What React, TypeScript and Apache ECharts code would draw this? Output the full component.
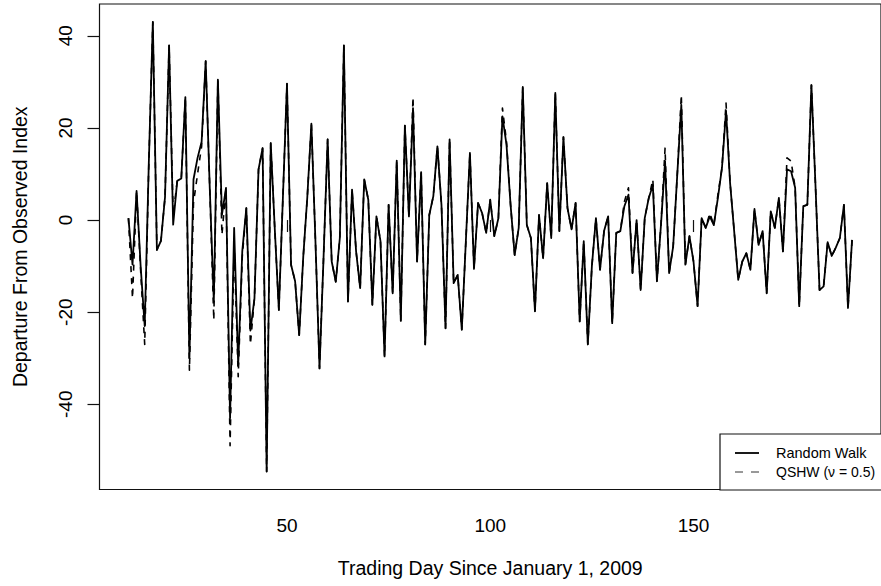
import React, { useEffect, useRef } from "react";
import * as echarts from "echarts";

// First trading-day index of the series (one value per trading day)
const FIRST_DAY = 11;

// Random Walk departures, days 11..189
const randomWalk: number[] = [
  0.4, -9.7, 6.3, -10, -23, 12, 43, -6.5, -4.5, 5,
  37.9, -1, 8.5, 9, 26.7, -30, 8.8, 13.5, 17, 34.5,
  7, -17.7, 30.5, 1.1, 7, -43, -1.7, -31.5, -6.8, 2.6,
  -24, -17, 11, 15.6, -54.6, 16.7, -2, -19.5, 5, 29.6,
  -9.7, -13.3, -25, -8, 5, 20.9, -4.6, -32.2, -8, 17.5,
  -9, -13.4, -3.9, 37.9, -17.7, 6.6, -6.8, -14.8, 8.8, 4.4,
  -18.4, 0.8, -4.6, -29.6, 3.3, -15.9, 12.9, -21.9, 20.5, 0.8,
  24.3, -9, 10.4, -27, 1.1, 5.2, 16, 3.3, -23.5, 17.5,
  -13.7, -11.9, -23.8, -4.6, 14.6, -10.6, 3.7, 1.5, -2.8, 4.4,
  -3.5, 0.4, 22.5, 16.3, 3.3, -7.6, -1.7, 28.9, -1.1, -3.9,
  -19.8, 1.1, -8.3, 8, -3.9, 27.6, -2.4, 18, 2.6, -2,
  3.7, -22, -4.6, -27, -10, 0.4, -10.8, -2.4, 0.8, -22.4,
  -2.8, -2.4, 3, 5.5, -11.5, 0, -15.2, 0.4, 4.8, 7.6,
  -13.3, -1, 12.8, -11.5, -5.7, 9.8, 25, -9.7, -3.5, -9,
  -18.7, 0.4, -1.7, 0.8, -1.1, 4.8, 11.3, 23.7, 8, -2.4,
  -13, -9, -7.2, -10.8, 2.4, -5.4, -2.4, -15.9, 1.9, -1.7,
  4.8, -6.8, 11, 10.6, 7, -18.7, 3, 3.3, 29.3, 7.6,
  -15.2, -14.4, -4.8, -7.8, -6, -3.9, 3.3, -19.1, -4.3,
];

// QSHW (nu = 0.5) departures, days 11..189
const qshw: number[] = [
  0.4, -17, 6.3, -11, -27, 12, 43, -6.5, -4.5, 5,
  37.9, 1, 8.5, 9, 26.7, -32.6, 3.7, 10, 16, 34.5,
  7, -21.7, 30.5, -3.2, 7, -49, -5, -34, -8, 2.6,
  -27, -17, 11, 15.6, -54.6, 16.7, -2, -19.5, 5, 29.6,
  -9.7, -13.3, -25, -8, 5, 20.9, -4.6, -32.2, -8, 17.5,
  -9, -13.4, -3.9, 37.9, -17.7, 6.6, -6.8, -14.8, 8.8, 4.4,
  -18.4, 0.8, -4.6, -29.6, 3.3, -15.9, 12.9, -21.9, 20.5, 0.8,
  26.7, -9, 10.4, -27, 1.1, 5.2, 16, 3.3, -23.5, 17.5,
  -13.7, -11.9, -23.8, -4.6, 14.6, -10.6, 3.7, 1.5, -2.8, 4.4,
  -3.5, 0.4, 24.3, 17, 3.3, -7.6, -1.7, 28.9, -1.1, -3.9,
  -19.8, 1.1, -8.3, 8, -3.9, 27.6, -2.4, 18, 2.6, -2,
  3.7, -22, -4.6, -27, -10, 0.4, -10.8, -2.4, 0.8, -22.4,
  -2.8, -2.4, 4, 7, -11.5, 0, -15.2, 0.4, 4.8, 8.8,
  -13.3, -1, 15.6, -11.5, -5.7, 9.8, 27.2, -9.7, -3.5, -9,
  -18.7, 0.4, -1.7, 1.5, -1.1, 5.5, 11.3, 25.4, 8, -2.4,
  -13, -9, -7.2, -10.8, 2.4, -5.4, -2.4, -15.9, 1.9, -1.7,
  4.8, -6.8, 13.5, 12.8, 7, -18.7, 3, 3.3, 29.3, 7.6,
  -15.2, -14.4, -4.8, -7.8, -6, -3.9, 3.3, -19.1, -4.3,
];

const xTicks = [50, 100, 150];
const yTicks = [-40, -20, 0, 20, 40];

const FONT = "'Liberation Sans', Arial, Helvetica, sans-serif";

export default function App() {
  const ref = useRef<HTMLDivElement>(null);

  useEffect(() => {
    if (!ref.current) return;
    const chart = echarts.init(ref.current, null, { renderer: "svg" });
    const toPairs = (vals: number[]) => vals.map((v, i) => [FIRST_DAY + i, v]);

    chart.setOption({
      animation: false,
      backgroundColor: "#ffffff",
      grid: {
        left: 99.5,
        right: -8.5,
        top: 4,
        bottom: 96.5,
        show: true,
        borderColor: "#111",
        borderWidth: 1.2,
        backgroundColor: "transparent",
      },
      xAxis: {
        type: "value",
        min: 3.88,
        max: 196.12,
        splitLine: { show: false },
        axisLine: { show: false },
        axisTick: {
          show: true,
          customValues: xTicks,
          length: 12,
          inside: false,
          lineStyle: { color: "#111", width: 1.2 },
        },
        axisLabel: {
          customValues: xTicks,
          margin: 26,
          fontSize: 19,
          color: "#000",
          fontFamily: FONT,
        },
        name: "Trading Day Since January 1, 2009",
        nameLocation: "middle",
        nameGap: 68,
        nameTextStyle: { fontSize: 19.5, color: "#000", fontFamily: FONT },
      },
      yAxis: {
        type: "value",
        min: -58.5,
        max: 46.9,
        splitLine: { show: false },
        axisLine: { show: false },
        axisTick: {
          show: true,
          customValues: yTicks,
          length: 12,
          inside: false,
          lineStyle: { color: "#111", width: 1.2 },
        },
        axisLabel: {
          customValues: yTicks,
          rotate: 90,
          margin: 25,
          fontSize: 19,
          color: "#000",
          fontFamily: FONT,
        },
        name: "Departure From Observed Index",
        nameLocation: "middle",
        nameRotate: 90,
        nameGap: 70,
        nameTextStyle: { fontSize: 19.5, color: "#000", fontFamily: FONT },
      },
      series: [
        {
          name: "QSHW",
          type: "line",
          data: toPairs(qshw),
          symbol: "none",
          z: 2,
          lineStyle: { color: "#000", width: 1.6, type: [6, 6], join: "round" },
        },
        {
          name: "Random Walk",
          type: "line",
          data: toPairs(randomWalk),
          symbol: "none",
          z: 3,
          lineStyle: { color: "#000", width: 1.8, join: "round" },
        },
      ],
      graphic: [
        {
          type: "rect",
          z: 100,
          shape: { x: 720, y: 434, width: 175, height: 56 },
          style: { fill: "#fff", stroke: "#111", lineWidth: 1.2 },
        },
        {
          type: "line",
          z: 101,
          shape: { x1: 735, y1: 453, x2: 759, y2: 453 },
          style: { stroke: "#000", lineWidth: 1.8 },
        },
        {
          type: "line",
          z: 101,
          shape: { x1: 735, y1: 472, x2: 759, y2: 472 },
          style: { stroke: "#333", lineWidth: 1, lineDash: [8, 8] },
        },
        {
          type: "text",
          z: 101,
          x: 776,
          y: 453,
          style: {
            text: "Random Walk",
            fontSize: 14.5,
            fontFamily: FONT,
            fill: "#000",
            verticalAlign: "middle",
          },
        },
        {
          type: "text",
          z: 101,
          x: 776,
          y: 472,
          style: {
            text: "QSHW (\u03bd = 0.5)",
            fontSize: 14,
            fontFamily: FONT,
            fill: "#000",
            verticalAlign: "middle",
          },
        },
      ],
    });

    return () => chart.dispose();
  }, []);

  return (
    <div
      ref={ref}
      style={{ position: "absolute", left: 0, top: 0, width: 881, height: 586 }}
    />
  );
}
